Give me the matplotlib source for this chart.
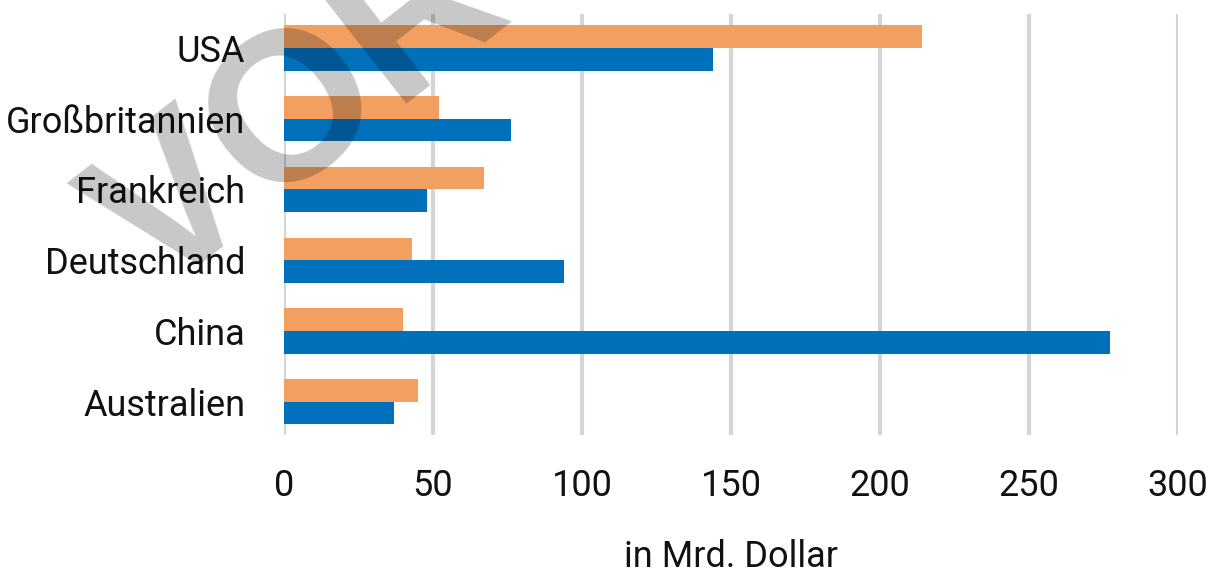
import matplotlib
matplotlib.use('Agg')
import matplotlib.pyplot as plt
import numpy as np

# Daten (in Mrd. Dollar)
laender = ['USA', 'Großbritannien', 'Frankreich', 'Deutschland', 'China', 'Australien']
werte_orange = [214, 52, 67, 43, 40, 45]
werte_blau = [144, 76, 48, 94, 277, 37]
x_ticks = [0, 50, 100, 150, 200, 250, 300]
x_label = 'in Mrd. Dollar'

plt.rcParams['font.family'] = ['Roboto', 'DejaVu Sans']

ORANGE = '#F2A062'
BLAU = '#0070BA'

fig = plt.figure(figsize=(12.16, 5.73), dpi=100)
ax = fig.add_axes([0.2336, 0.2408, 0.7352, 0.7348])

# Australien unten, USA oben
y = np.arange(len(laender))[::-1]
h = 0.32
ax.barh(y + h / 2, werte_orange, height=h, color=ORANGE, zorder=3)
ax.barh(y - h / 2, werte_blau, height=h, color=BLAU, zorder=3)

ax.set_xlim(0, 300)
ax.set_ylim(-0.47, 5.48)
ax.set_xticks(x_ticks)
ax.set_xticklabels([str(t) for t in x_ticks])
ax.set_yticks(y)
ax.set_yticklabels(laender)
ax.tick_params(axis='both', length=0, labelsize=26, colors='#111111')
ax.tick_params(axis='x', pad=24)
ax.tick_params(axis='y', pad=28)

ax.grid(axis='x', color='#D4D6D6', linewidth=3, zorder=0)
for s in ax.spines.values():
    s.set_visible(False)

ax.set_xlabel(x_label, fontsize=26, labelpad=25, color='#111111')

# Wasserzeichen
fig.text(0.128, 0.480, 'VORSCHAU', fontsize=152, fontweight='bold', color='black',
         alpha=0.22, rotation=38, rotation_mode='anchor', ha='left', va='baseline',
         family=['Liberation Sans', 'DejaVu Sans'], zorder=10)

fig.savefig('out.png', dpi=100)
